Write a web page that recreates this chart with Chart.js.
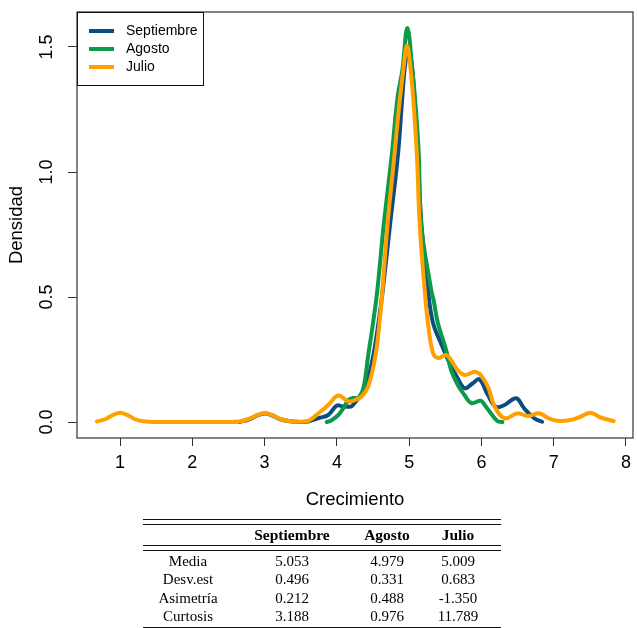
<!DOCTYPE html>
<html>
<head>
<meta charset="utf-8">
<script src="https://cdn.jsdelivr.net/npm/chart.js@4.4.0/dist/chart.umd.min.js"></script>
<style>
    body { margin: 0; background: #fff; }
    #wrap { position: relative; width: 637px; height: 628px; overflow: hidden; }
    #densityChart { position: absolute; left: 0; top: 0; }
    .rule { position: absolute; left: 143px; width: 358px; height: 1px; background: #111; }
    .cell {
        position: absolute; width: 120px; margin-left: -60px;
        font-family: "Liberation Serif", "Times New Roman", serif;
        font-size: 15px; line-height: 18px; text-align: center; color: #000;
    }
    .head { font-weight: bold; font-size: 15.5px; }
</style>
</head>
<body>
<div id="wrap">
    <canvas id="densityChart" width="637" height="520"></canvas>
    <div id="statsTable"></div>
</div>
<script>
// series labels
const months = ['Septiembre', 'Agosto', 'Julio'];
const colors = ['#0b4d82', '#0a9a4a', '#ffa000'];

// density curves (x = crecimiento, y = densidad)
const septX = [2.65, 2.78, 2.90, 3.00, 3.10, 3.22, 3.35, 3.50, 3.60, 3.75, 3.88, 4.00, 4.08, 4.16, 4.20, 4.27, 4.34, 4.40,
    4.50, 4.575, 4.635, 4.735, 4.845, 4.905, 4.945, 4.99, 5.04, 5.08, 5.12, 5.17, 5.26, 5.33, 5.44, 5.56, 5.67, 5.77,
    5.88, 5.97, 6.09, 6.20, 6.32, 6.48, 6.59, 6.73, 6.84];
const septY = [0.0, 0.010, 0.026, 0.034, 0.027, 0.011, 0.003, 0.0, 0.002, 0.016, 0.028, 0.066, 0.062, 0.061, 0.062, 0.085, 0.110, 0.141,
    0.26, 0.396, 0.528, 0.788, 1.07, 1.30, 1.43, 1.49, 1.42, 1.26, 1.07, 0.788, 0.528, 0.396, 0.315, 0.235, 0.176, 0.135,
    0.155, 0.171, 0.108, 0.061, 0.068, 0.095, 0.055, 0.015, 0.001];

const agostoX = [3.86, 3.92, 4.02, 4.10, 4.16, 4.22, 4.30, 4.37, 4.43, 4.50, 4.56, 4.648, 4.76, 4.84, 4.906, 4.975, 5.044, 5.09,
    5.133, 5.167, 5.305, 5.338, 5.397, 5.512, 5.58, 5.673, 5.765, 5.86, 5.99, 6.04, 6.13, 6.22, 6.29];
const agostoY = [0.0, 0.006, 0.028, 0.060, 0.088, 0.096, 0.098, 0.14, 0.26, 0.396, 0.528, 0.788, 1.07, 1.30, 1.408, 1.576, 1.408, 1.26,
    1.07, 0.788, 0.528, 0.488, 0.396, 0.288, 0.208, 0.148, 0.108, 0.076, 0.085, 0.070, 0.035, 0.004, 0.0];

const julioX = [0.68, 0.80, 0.90, 1.00, 1.10, 1.20, 1.32, 1.50, 2.00, 2.50, 2.65, 2.78, 2.90, 3.00, 3.10, 3.22, 3.35, 3.50,
    3.60, 3.75, 3.88, 4.02, 4.16, 4.25, 4.34, 4.43, 4.53, 4.59, 4.63, 4.70, 4.79, 4.86, 4.92, 4.97, 5.02, 5.07,
    5.11, 5.146, 5.215, 5.26, 5.33, 5.40, 5.51, 5.58, 5.67, 5.77, 5.90, 5.95, 5.99, 6.09, 6.18, 6.32, 6.50,
    6.64, 6.80, 6.93, 7.05, 7.23, 7.37, 7.51, 7.64, 7.83];
const julioY = [0.002, 0.012, 0.028, 0.037, 0.028, 0.012, 0.003, 0.0, 0.0, 0.0, 0.002, 0.012, 0.028, 0.035, 0.028, 0.012, 0.003, 0.001,
    0.004, 0.036, 0.068, 0.106, 0.082, 0.088, 0.102, 0.14, 0.26, 0.40, 0.528, 0.788, 1.05, 1.26, 1.41, 1.505, 1.41, 1.24,
    1.05, 0.788, 0.528, 0.396, 0.276, 0.256, 0.268, 0.248, 0.208, 0.188, 0.201, 0.197, 0.188, 0.141, 0.064, 0.015, 0.035,
    0.024, 0.035, 0.015, 0.005, 0.008, 0.021, 0.037, 0.019, 0.004];

// axis ticks
const xTicks = [1, 2, 3, 4, 5, 6, 7, 8];
const yTicks = [0, 0.5, 1.0, 1.5];

// summary table
const statNames = ['Media', 'Desv.est', 'Asimetría', 'Curtosis'];
const septStats = [5.053, 0.496, 0.212, 3.188];
const agostoStats = [4.979, 0.331, 0.488, 0.976];
const julioStats = [5.009, 0.683, -1.350, 11.789];

function toPoints(xs, ys) {
    return xs.map((x, i) => ({ x: x, y: ys[i] }));
}

const seriesX = [septX, agostoX, julioX];
const seriesY = [septY, agostoY, julioY];

const boxPlugin = {
    id: 'boxPlugin',
    afterDraw(chart) {
        const ctx = chart.ctx;
        const area = chart.chartArea;
        const yScale = chart.scales.y;
        ctx.save();
        // plot box
        ctx.strokeStyle = '#333';
        ctx.lineWidth = 1.2;
        ctx.strokeRect(area.left, area.top, area.right - area.left, area.bottom - area.top);

        // y tick labels, rotated like R
        ctx.fillStyle = '#000';
        ctx.font = '18px "Liberation Sans", Arial, sans-serif';
        ctx.textAlign = 'center';
        ctx.textBaseline = 'middle';
        yTicks.forEach(v => {
            const py = yScale.getPixelForValue(v);
            ctx.save();
            ctx.translate(47, py);
            ctx.rotate(-Math.PI / 2);
            ctx.fillText(v.toFixed(1), 0, 0);
            ctx.restore();
        });

        // legend
        const lx = area.left, ly = area.top;
        ctx.fillStyle = '#fff';
        ctx.fillRect(lx, ly, 126, 73);
        ctx.strokeStyle = '#111';
        ctx.lineWidth = 1;
        ctx.strokeRect(lx + 0.5, ly + 0.5, 126, 73);
        ctx.font = '14px "Liberation Sans", Arial, sans-serif';
        ctx.textAlign = 'left';
        chart.data.datasets.forEach((ds, i) => {
            const yy = ly + 19 + i * 18;
            ctx.strokeStyle = ds.borderColor;
            ctx.lineWidth = 4;
            ctx.beginPath();
            ctx.moveTo(lx + 12, yy);
            ctx.lineTo(lx + 37, yy);
            ctx.stroke();
            ctx.fillStyle = '#000';
            ctx.fillText(ds.label, lx + 49, yy);
        });
        ctx.restore();
    }
};

const ctx = document.getElementById('densityChart').getContext('2d');
const densityChart = new Chart(ctx, {
    type: 'line',
    data: {
        datasets: months.map((m, i) => ({
            label: m,
            data: toPoints(seriesX[i], seriesY[i]),
            borderColor: colors[i],
            backgroundColor: colors[i],
            borderWidth: 4,
            pointRadius: 0,
            fill: false,
            tension: 0.4,
            borderCapStyle: 'round',
            borderJoinStyle: 'round',
            order: months.length - 1 - i
        }))
    },
    options: {
        responsive: false,
        animation: false,
        devicePixelRatio: 1,
        layout: { padding: { left: 0, top: 12, right: 1, bottom: 0 } },
        plugins: {
            legend: { display: false },
            tooltip: { enabled: false }
        },
        scales: {
            x: {
                type: 'linear',
                min: 0.404,
                max: 8.097,
                afterBuildTicks: scale => { scale.ticks = xTicks.map(v => ({ value: v })); },
                afterFit: scale => { scale.height = 82; },
                border: { display: false },
                grid: { drawOnChartArea: false, drawTicks: true, tickLength: 8, color: '#333', lineWidth: 1 },
                ticks: {
                    color: '#000',
                    padding: 6,
                    maxRotation: 0,
                    autoSkip: false,
                    font: { family: '"Liberation Sans", Arial, sans-serif', size: 18 },
                    callback: v => String(v)
                },
                title: {
                    display: true,
                    text: 'Crecimiento',
                    color: '#000',
                    font: { family: '"Liberation Sans", Arial, sans-serif', size: 18.5 },
                    padding: { top: 0, bottom: 9 }
                }
            },
            y: {
                type: 'linear',
                min: -0.064,
                max: 1.64,
                afterBuildTicks: scale => { scale.ticks = yTicks.map(v => ({ value: v })); },
                afterFit: scale => { scale.width = 77; },
                border: { display: false },
                grid: { drawOnChartArea: false, drawTicks: true, tickLength: 9, color: '#333', lineWidth: 1 },
                ticks: { display: false },
                title: {
                    display: true,
                    text: 'Densidad',
                    color: '#000',
                    font: { family: '"Liberation Sans", Arial, sans-serif', size: 18.5 },
                    padding: { top: 6, bottom: 0 }
                }
            }
        }
    },
    plugins: [boxPlugin]
});

// table under the chart
function buildTable() {
    const box = document.getElementById('statsTable');
    const rules = [519, 524, 545, 550, 627];
    rules.forEach(y => {
        const d = document.createElement('div');
        d.className = 'rule';
        d.style.top = y + 'px';
        box.appendChild(d);
    });
    const colX = [188, 292, 387, 458];
    const addCell = (text, x, top, cls) => {
        const d = document.createElement('div');
        d.className = 'cell' + (cls ? ' ' + cls : '');
        d.style.left = x + 'px';
        d.style.top = top + 'px';
        d.textContent = text;
        box.appendChild(d);
    };
    months.forEach((m, i) => addCell(m, colX[i + 1], 526, 'head'));
    const cols = [septStats, agostoStats, julioStats];
    statNames.forEach((name, r) => {
        const top = 552 + r * 18.3;
        addCell(name, colX[0], top);
        cols.forEach((c, i) => addCell(c[r].toFixed(3), colX[i + 1], top));
    });
}
buildTable();
</script>
</body>
</html>
